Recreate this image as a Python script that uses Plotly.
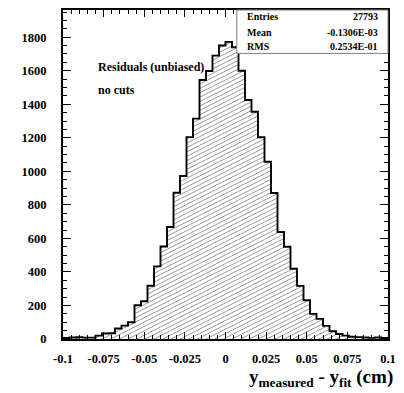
import numpy as np
import plotly.graph_objects as go

# Residual histogram: 50 bins from -0.1 to 0.1 cm
x_lo, x_hi = -0.1, 0.1
counts = [6, 9, 10, 8, 8, 20, 33, 34, 63, 80,
          100, 201, 225, 318, 433, 552, 668, 872, 972, 1204,
          1314, 1545, 1598, 1690, 1750, 1772, 1740, 1600, 1425, 1355,
          1203, 1057, 871, 638, 550, 419, 317, 231, 150, 120,
          78, 46, 30, 20, 13, 11, 9, 7, 9, 6]

x_tick_vals = [-0.1, -0.075, -0.05, -0.025, 0, 0.025, 0.05, 0.075, 0.1]
x_tick_text = ["-0.1", "-0.075", "-0.05", "-0.025", "0", "0.025", "0.05", "0.075", "0.1"]
y_tick_vals = [0, 200, 400, 600, 800, 1000, 1200, 1400, 1600, 1800]

stat_names = ["Entries", "Mean", "RMS"]
stat_values = ["27793", "-0.1306E-03", "0.2534E-01"]

y_max = 1962
W, H = 404, 393
ML, MR, MT, MB = 63, 11, 8, 54
PW, PH = W - ML - MR, H - MT - MB

FONT = "Liberation Serif"
edges = np.linspace(x_lo, x_hi, len(counts) + 1)

# Hatch fill: thin slanted lines clipped to each bin (computed in pixel space)
slope = 0.5      # rise per pixel
gap = 4.4        # vertical spacing between hatch lines, px
hx, hy = [], []
to_px = lambda v: (v - x_lo) / (x_hi - x_lo) * PW
to_dx = lambda p: x_lo + p / PW * (x_hi - x_lo)
to_dy = lambda p: p / PH * y_max
c = -slope * PW
while c < PH:
    for i, h in enumerate(counts):
        pa, pb = to_px(edges[i]), to_px(edges[i + 1])
        hp = h / y_max * PH
        lo = max(pa, (0 - c) / slope)
        hi = min(pb, (hp - c) / slope)
        if hi > lo:
            hx += [to_dx(lo), to_dx(hi), None]
            hy += [to_dy(slope * lo + c), to_dy(slope * hi + c), None]
    c += gap

fig = go.Figure()
fig.add_trace(go.Scatter(x=hx, y=hy, mode="lines",
                         line=dict(color="#8c8c8c", width=0.9),
                         hoverinfo="skip", showlegend=False))

# Histogram outline
fig.add_trace(go.Scatter(x=list(edges), y=counts + [counts[-1]], mode="lines",
                         line=dict(color="black", width=1.9, shape="hv"),
                         showlegend=False))

tick_font = dict(family=FONT, size=12.5, color="black", weight="bold")
fig.update_xaxes(range=[x_lo, x_hi], showgrid=False, zeroline=False,
                 showline=True, linecolor="black", linewidth=2, mirror="allticks",
                 ticks="inside", ticklen=7, tickwidth=1, tickcolor="black",
                 tickvals=x_tick_vals, ticktext=x_tick_text, tickfont=tick_font,
                 ticklabelstandoff=7,
                 minor=dict(dtick=0.005, tick0=0, ticks="inside", ticklen=4,
                            tickwidth=1, tickcolor="black", showgrid=False))
fig.update_yaxes(range=[0, y_max], showgrid=False, zeroline=False,
                 showline=True, linecolor="black", linewidth=2, mirror="allticks",
                 ticks="inside", ticklen=8, tickwidth=1, tickcolor="black",
                 tickvals=y_tick_vals, tickfont=tick_font, ticklabelstandoff=12,
                 minor=dict(dtick=50, tick0=0, ticks="inside", ticklen=4,
                            tickwidth=1, tickcolor="black", showgrid=False))

# Statistics box
fig.add_shape(type="rect", xref="paper", yref="paper",
              x0=(239.5 - ML) / PW, x1=1, y0=(MT + PH - 51.7) / PH, y1=1,
              line=dict(color="#808080", width=1), fillcolor="white", layer="above")
stat_y = [15, 30.7, 45]
for name, val, yp in zip(stat_names, stat_values, stat_y):
    py = (MT + PH - yp) / PH
    fig.add_annotation(xref="paper", yref="paper", x=(247.5 - ML) / PW, y=py,
                       text=name, showarrow=False, xanchor="left", yanchor="middle",
                       font=dict(family=FONT, size=10, color="black", weight="bold"))
    fig.add_annotation(xref="paper", yref="paper", x=(385 - ML) / PW, y=py,
                       text=val, showarrow=False, xanchor="right", yanchor="middle",
                       font=dict(family=FONT, size=10, color="black", weight="bold"))

fig.add_annotation(xref="paper", yref="paper", x=(96.5 - ML) / PW, y=(MT + PH - 65.7) / PH,
                   text="Residuals (unbiased)", showarrow=False, xanchor="left", yanchor="middle",
                   font=dict(family=FONT, size=12, color="black", weight="bold"))
fig.add_annotation(xref="paper", yref="paper", x=(96.5 - ML) / PW, y=(MT + PH - 88.7) / PH,
                   text="no cuts", showarrow=False, xanchor="left", yanchor="middle",
                   font=dict(family=FONT, size=12, color="black", weight="bold"))

# Axis title
fig.add_annotation(xref="paper", yref="paper", x=1.021, y=(MT + PH - 378) / PH,
                   text="y<sub>measured</sub> - y<sub>fit</sub> (cm)", showarrow=False,
                   xanchor="right", yanchor="middle",
                   font=dict(family=FONT, size=19, color="black", weight="bold"))

fig.update_layout(width=W, height=H, margin=dict(l=ML, r=MR, t=MT, b=MB),
                  paper_bgcolor="white", plot_bgcolor="white", showlegend=False)
fig.write_html("out.html")
